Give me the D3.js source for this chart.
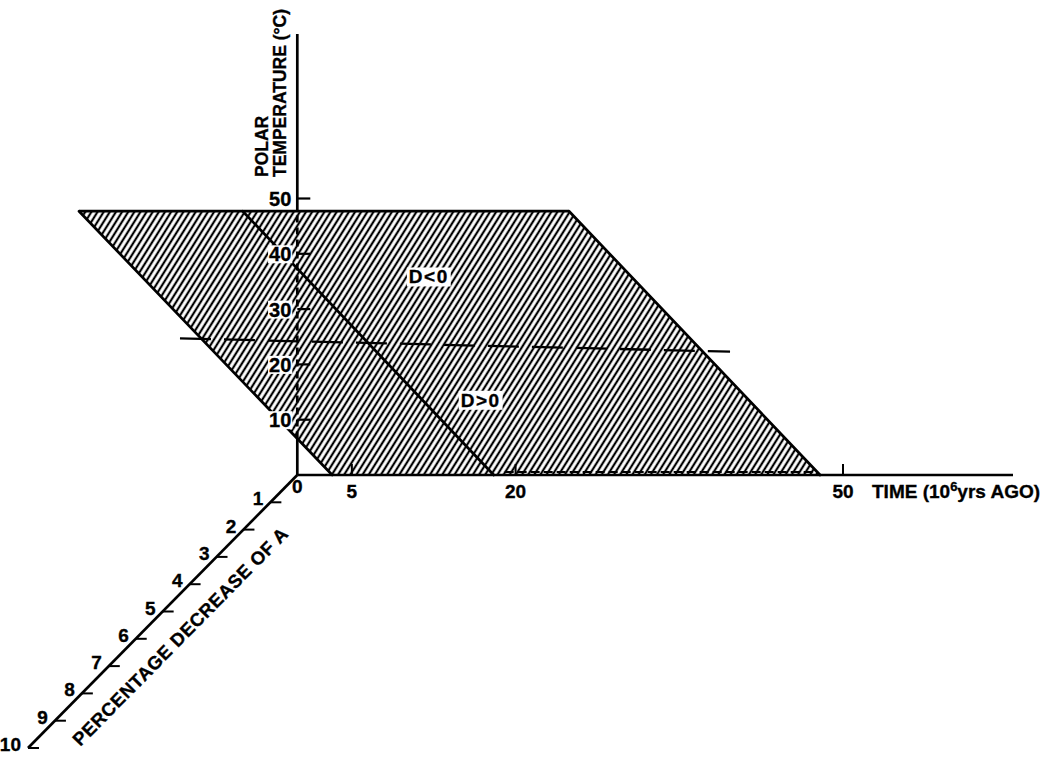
<!DOCTYPE html>
<html>
<head>
<meta charset="utf-8">
<script src="https://cdn.jsdelivr.net/npm/d3@7"></script>
<style>
  body { margin: 0; background: #fff; }
  text { font-family: "Liberation Sans", Arial, sans-serif; font-weight: bold; fill: #000;
         stroke: #000; stroke-width: 0.35px; }
</style>
</head>
<body>
<svg id="chart" width="1049" height="759"></svg>
<script>
// Axis tick values
const timeTicks = [5, 20, 50];
const tempTicks = [10, 20, 30, 40, 50];
const pctTicks = [1, 2, 3, 4, 5, 6, 7, 8, 9, 10];

// Shaded band: bottom and top polar temperature (°C)
const bandTemps = [0, 47.7];
// Boundary lines of the band (left edge, D=0 line, right edge):
// time (10^6 yrs ago) where each meets the top and the bottom of the band
const boundaryTopTime = [-20, -5, 24.9];
const boundaryBottomTime = [3.2, 18, 47.9];

// Dashed reference line, endpoints as time / temperature
const refTimes = [-10.75, 39.65];
const refTemps = [24.7, 22.3];

// Region labels
const regionLabels = ["D<0", "D>0"];
const regionTimes = [12.05, 16.8];
const regionTemps = [35.9, 13.6];

const svg = d3.select("#chart");

// Time runs right, temperature up, percentage decrease down-left from the origin
const x = d3.scaleLinear().domain([0, 50]).range([297.3, 843]);
const y = d3.scaleLinear().domain([0, 50]).range([475, 198.5]);
const pctX = d3.scaleLinear().domain([0, 10]).range([297.3, 28]);
const pctY = d3.scaleLinear().domain([0, 10]).range([475, 748]);

const timeMax = x.invert(1013);
const tempMax = y.invert(34);

// Hatch pattern for the shaded band
const defs = svg.append("defs");
const pat = defs.append("pattern")
  .attr("id", "hatch")
  .attr("patternUnits", "userSpaceOnUse")
  .attr("width", 5.2)
  .attr("height", 20)
  .attr("patternTransform", "rotate(32)");
pat.append("line")
  .attr("x1", 2.6).attr("x2", 2.6)
  .attr("y1", -2).attr("y2", 22)
  .attr("stroke", "#000").attr("stroke-width", 2.2);

const [tBot, tTop] = bandTemps;
const iL = 0, iM = 1, iR = 2;

// Band polygon
const bandPts = [
  [x(boundaryTopTime[iL]), y(tTop)],
  [x(boundaryTopTime[iR]), y(tTop)],
  [x(boundaryBottomTime[iR]), y(tBot)],
  [x(boundaryBottomTime[iL]), y(tBot)]
];
svg.append("path")
  .attr("d", d3.line()(bandPts) + "Z")
  .attr("fill", "url(#hatch)")
  .attr("stroke", "none");

// Boundary lines of the band
const edgeStroke = 2.7;
svg.append("line")
  .attr("x1", x(boundaryTopTime[iL])).attr("y1", y(tTop))
  .attr("x2", x(boundaryTopTime[iR])).attr("y2", y(tTop))
  .attr("stroke", "#000").attr("stroke-width", edgeStroke);
boundaryTopTime.forEach((tt, i) => {
  svg.append("line")
    .attr("x1", x(tt)).attr("y1", y(tTop))
    .attr("x2", x(boundaryBottomTime[i])).attr("y2", y(tBot))
    .attr("stroke", "#000").attr("stroke-width", edgeStroke)
    .attr("stroke-linecap", "round");
});

// Dashed reference line across the band
svg.append("line")
  .attr("x1", x(refTimes[0])).attr("y1", y(refTemps[0]))
  .attr("x2", x(refTimes[1])).attr("y2", y(refTemps[1]))
  .attr("stroke", "#000").attr("stroke-width", 2.3)
  .attr("stroke-dasharray", "31,13");

// Temperature axis: solid outside the band, dashed where it runs behind it
const fL = (0 - boundaryTopTime[iL]) / (boundaryBottomTime[iL] - boundaryTopTime[iL]);
const tempAtLeftEdge = tTop + (tBot - tTop) * fL;
const axisStroke = 2.7;
svg.append("line")
  .attr("x1", x(0)).attr("x2", x(0))
  .attr("y1", y(0)).attr("y2", y(tempAtLeftEdge))
  .attr("stroke", "#000").attr("stroke-width", axisStroke);
svg.append("line")
  .attr("x1", x(0)).attr("x2", x(0))
  .attr("y1", y(tempAtLeftEdge)).attr("y2", y(tTop))
  .attr("stroke", "#000").attr("stroke-width", axisStroke)
  .attr("stroke-dasharray", "7,5");
svg.append("line")
  .attr("x1", x(0)).attr("x2", x(0))
  .attr("y1", y(tTop)).attr("y2", y(tempMax))
  .attr("stroke", "#000").attr("stroke-width", axisStroke);

// Temperature ticks and labels
const tempG = svg.append("g");
tempTicks.forEach(t => {
  tempG.append("line")
    .attr("x1", x(0)).attr("x2", x(0) + 13)
    .attr("y1", y(t)).attr("y2", y(t))
    .attr("stroke", "#000").attr("stroke-width", 2.2);
  const lbl = tempG.append("text")
    .attr("x", x(0) - 6).attr("y", y(t) + 7.5)
    .attr("text-anchor", "end")
    .attr("font-size", 20)
    .text(t);
  const bb = lbl.node().getBBox();
  tempG.insert("rect", "text")
    .attr("x", bb.x - 1).attr("y", bb.y + 2)
    .attr("width", bb.width + 2).attr("height", bb.height - 4)
    .attr("fill", "#fff");
});

// Temperature axis title
const tTitle = svg.append("g").attr("transform", "translate(268,177) rotate(-90)");
tTitle.append("text").attr("font-size", 17.5).text("POLAR");
tTitle.append("text").attr("y", 18).attr("font-size", 17.5).text("TEMPERATURE (°C)");

// Time axis
svg.append("line")
  .attr("x1", x(0)).attr("x2", x(timeMax))
  .attr("y1", y(0)).attr("y2", y(0))
  .attr("stroke", "#000").attr("stroke-width", axisStroke);
// hidden part of the time axis under the band
svg.append("line")
  .attr("x1", x(19)).attr("x2", x(47.3))
  .attr("y1", y(0) - 3).attr("y2", y(0) - 3)
  .attr("stroke", "#000").attr("stroke-width", 1.8)
  .attr("stroke-dasharray", "9,4");

timeTicks.forEach(t => {
  svg.append("line")
    .attr("x1", x(t)).attr("x2", x(t))
    .attr("y1", y(0)).attr("y2", y(0) - 11)
    .attr("stroke", "#000").attr("stroke-width", 2);
  svg.append("text")
    .attr("x", x(t)).attr("y", y(0) + 23)
    .attr("text-anchor", "middle")
    .attr("font-size", 19)
    .text(t);
});
svg.append("text")
  .attr("x", x(0)).attr("y", y(0) + 18)
  .attr("text-anchor", "middle")
  .attr("font-size", 19)
  .text(0);

const timeTitle = svg.append("text")
  .attr("x", 872).attr("y", y(0) + 23)
  .attr("font-size", 19);
timeTitle.append("tspan").text("TIME (10");
timeTitle.append("tspan").attr("dy", -7).attr("font-size", 13).text("6");
timeTitle.append("tspan").attr("dy", 7).text("yrs AGO)");

// Percentage-decrease axis
svg.append("line")
  .attr("x1", pctX(0)).attr("y1", pctY(0))
  .attr("x2", pctX(10)).attr("y2", pctY(10))
  .attr("stroke", "#000").attr("stroke-width", axisStroke);
pctTicks.forEach(p => {
  svg.append("line")
    .attr("x1", pctX(p)).attr("x2", pctX(p) + 11)
    .attr("y1", pctY(p)).attr("y2", pctY(p))
    .attr("stroke", "#000").attr("stroke-width", 2);
  svg.append("text")
    .attr("x", pctX(p) - 7).attr("y", pctY(p) + 3)
    .attr("text-anchor", "end")
    .attr("font-size", 19)
    .text(p);
});
const ang = Math.atan2(pctY(10) - pctY(0), pctX(0) - pctX(10)) * 180 / Math.PI;
svg.append("text")
  .attr("transform", `translate(185,641) rotate(${-ang})`)
  .attr("text-anchor", "middle")
  .attr("font-size", 18.5)
  .attr("letter-spacing", 0.6)
  .text("PERCENTAGE  DECREASE OF A");

// Region labels with white backing
regionLabels.forEach((lab, i) => {
  const g = svg.append("g");
  const tx = g.append("text")
    .attr("x", x(regionTimes[i])).attr("y", y(regionTemps[i]) + 7)
    .attr("text-anchor", "middle")
    .attr("font-size", 19)
    .attr("letter-spacing", 1.5)
    .text(lab);
  const bb = tx.node().getBBox();
  g.insert("rect", "text")
    .attr("x", bb.x - 2).attr("y", bb.y + 1)
    .attr("width", bb.width + 4).attr("height", bb.height - 2)
    .attr("fill", "#fff");
});
</script>
</body>
</html>
